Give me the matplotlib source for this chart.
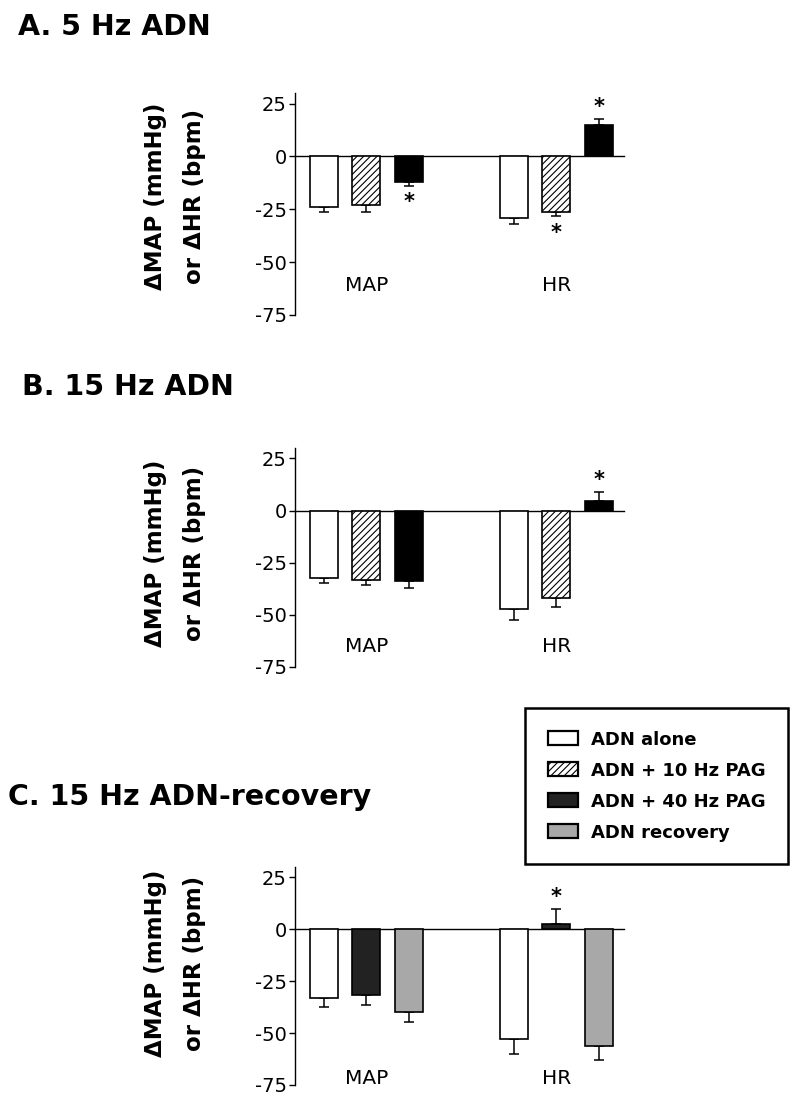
import matplotlib
matplotlib.use('Agg')
import matplotlib.pyplot as plt
from matplotlib.patches import Patch

plt.rcParams['font.family'] = ['DejaVu Sans']
plt.rcParams['axes.unicode_minus'] = False
plt.rcParams['hatch.linewidth'] = 0.8

# ---------------- data ----------------
groups = ['MAP', 'HR']
conditions = ['ADN alone', 'ADN + 10 Hz PAG', 'ADN + 40 Hz PAG', 'ADN recovery']
yticks = [25, 0, -25, -50, -75]

# Panel A: 5 Hz ADN (conditions 0,1,2)
a_title = 'A. 5 Hz ADN'
a_conds = [0, 1, 2]
a_map_mean = [-24.0, -23.1, -12.0]
a_map_sem = [2.1, 3.0, 1.9]
a_hr_mean = [-29.0, -26.1, 14.9]
a_hr_sem = [2.8, 2.1, 2.8]
a_sig = [('MAP', 2), ('HR', 1), ('HR', 2)]

# Panel B: 15 Hz ADN (conditions 0,1,2)
b_title = 'B. 15 Hz ADN'
b_conds = [0, 1, 2]
b_map_mean = [-32.2, -33.2, -34.0]
b_map_sem = [2.4, 2.5, 3.2]
b_hr_mean = [-47.4, -42.1, 4.5]
b_hr_sem = [4.9, 4.2, 4.3]
b_sig = [('HR', 2)]

# Panel C: 15 Hz ADN-recovery (conditions 0,2,3)
c_title = 'C. 15 Hz ADN-recovery'
c_conds = [0, 2, 3]
c_map_mean = [-33.1, -31.8, -39.8]
c_map_sem = [4.3, 4.5, 4.7]
c_hr_mean = [-52.8, 2.7, -56.0]
c_hr_sem = [7.5, 6.9, 6.9]
c_sig = [('HR', 1)]

# ---------------- styles ----------------
cond_face = ['white', 'white', 'black', '#a8a8a8']
cond_hatch = [None, '/////', None, None]
group_offset = {'MAP': 0.0, 'HR': 4.47}
bar_w = 0.66

W, H = 800, 1102
fig = plt.figure(figsize=(W / 100, H / 100), dpi=100)


def px_axes(left, top, right, bottom):
    return fig.add_axes([left / W, 1 - bottom / H, (right - left) / W, (bottom - top) / H])


def draw_panel(ax, conds, means, sems, sig, label_y, black_color='black'):
    for g in groups:
        m = means[g]
        s = sems[g]
        xs = [group_offset[g] + i for i in range(len(conds))]
        for i, c in enumerate(conds):
            face = cond_face[c]
            if c == 2:
                face = black_color
            ax.bar(xs[i], m[i], width=bar_w, color=face, edgecolor='black',
                   linewidth=1.2, hatch=cond_hatch[c], zorder=3)
        lower = [s[i] if m[i] < 0 else 0 for i in range(len(m))]
        upper = [s[i] if m[i] >= 0 else 0 for i in range(len(m))]
        ax.errorbar(xs, m, yerr=[lower, upper], fmt='none', ecolor='black',
                    elinewidth=1.1, capsize=3.8, capthick=1.1, zorder=2)
        ax.text(group_offset[g] + 1, label_y, g, ha='center', va='center',
                fontsize=14.5)
    for g, i in sig:
        m = means[g][i]
        s = sems[g][i]
        x = group_offset[g] + i
        if m < 0:
            ax.annotate('*', xy=(x, m - s), xytext=(0, -12), textcoords='offset points',
                        ha='center', va='center', fontsize=15, fontweight='bold')
        else:
            ax.annotate('*', xy=(x, m + s), xytext=(0, 9), textcoords='offset points',
                        ha='center', va='center', fontsize=15, fontweight='bold')
    ax.set_xlim(-0.68, 7.06)
    ax.set_ylim(-75, 30)
    ax.set_yticks(yticks)
    ax.set_yticklabels([str(t) for t in yticks])
    ax.spines['top'].set_visible(False)
    ax.spines['right'].set_visible(False)
    ax.spines['bottom'].set_position(('data', 0))
    ax.spines['bottom'].set_linewidth(1.0)
    ax.spines['left'].set_linewidth(1.0)
    ax.set_xticks([])
    ax.tick_params(axis='y', direction='out', length=4, width=1.0, pad=2,
                   labelsize=14)
    ax.patch.set_alpha(0)


ylab = '\u0394MAP (mmHg)\nor \u0394HR (bpm)'

# Panel A
axA = px_axes(295, 93, 624, 315)
draw_panel(axA, a_conds, {'MAP': a_map_mean, 'HR': a_hr_mean},
           {'MAP': a_map_sem, 'HR': a_hr_sem}, a_sig, -61)
fig.text(18 / W, 1 - 35 / H, a_title, fontsize=20.5, fontweight='bold', va='baseline')
fig.text(175 / W, 1 - 196 / H, ylab, rotation=90, ha='center', va='center',
         fontsize=16.5, fontweight='bold', multialignment='center', linespacing=1.9)

# Panel B
axB = px_axes(295, 448, 624, 667)
draw_panel(axB, b_conds, {'MAP': b_map_mean, 'HR': b_hr_mean},
           {'MAP': b_map_sem, 'HR': b_hr_sem}, b_sig, -65)
fig.text(22 / W, 1 - 395 / H, b_title, fontsize=20.5, fontweight='bold', va='baseline')
fig.text(175 / W, 1 - 553 / H, ylab, rotation=90, ha='center', va='center',
         fontsize=16.5, fontweight='bold', multialignment='center', linespacing=1.9)

# Panel C
axC = px_axes(295, 867, 624, 1085)
draw_panel(axC, c_conds, {'MAP': c_map_mean, 'HR': c_hr_mean},
           {'MAP': c_map_sem, 'HR': c_hr_sem}, c_sig, -72, black_color='#222222')
fig.text(8 / W, 1 - 805 / H, c_title, fontsize=20.5, fontweight='bold', va='baseline')
fig.text(175 / W, 1 - 963 / H, ylab, rotation=90, ha='center', va='center',
         fontsize=16.5, fontweight='bold', multialignment='center', linespacing=1.9)

# Legend
legend_face = ['white', 'white', '#222222', '#a8a8a8']
handles = [Patch(facecolor=legend_face[i], edgecolor='black', linewidth=1.6,
                 hatch=cond_hatch[i]) for i in range(len(conditions))]
leg = fig.legend(handles, conditions, loc='upper left',
                 bbox_to_anchor=(525 / W, 1 - 708 / H), borderaxespad=0,
                 frameon=True, fancybox=False,
                 edgecolor='black', framealpha=1, borderpad=1.25, handlelength=1.66,
                 handleheight=0.83, handletextpad=0.72, labelspacing=0.72,
                 prop={'size': 13, 'weight': 'bold'})
leg.get_frame().set_linewidth(1.8)

fig.savefig('out.png', dpi=100)
